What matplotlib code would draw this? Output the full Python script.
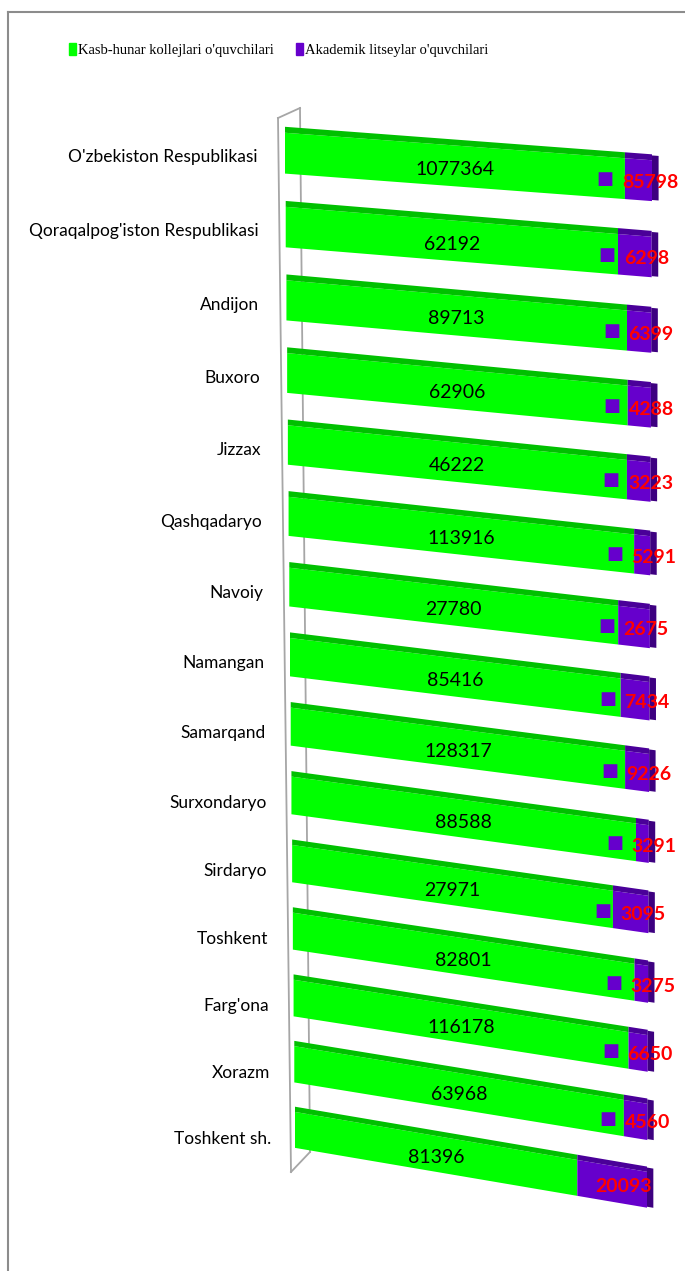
"""3D-style 100% stacked bars: college vs lyceum students by region."""
import numpy as np
import matplotlib
matplotlib.use("Agg")
import matplotlib.pyplot as plt
from matplotlib.transforms import Affine2D
from matplotlib.patches import Patch
from matplotlib.lines import Line2D

REGIONS = ["O'zbekiston Respublikasi", "Qoraqalpog'iston Respublikasi", "Andijon", "Buxoro",
           "Jizzax", "Qashqadaryo", "Navoiy", "Namangan", "Samarqand", "Surxondaryo",
           "Sirdaryo", "Toshkent", "Farg'ona", "Xorazm", "Toshkent sh."]
COLLEGE = [1077364, 62192, 89713, 62906, 46222, 113916, 27780, 85416, 128317, 88588,
           27971, 82801, 116178, 63968, 81396]
LYCEUM = [85798, 6298, 6399, 4288, 3223, 5291, 2675, 7434, 9226, 3291,
          3095, 3275, 6650, 4560, 20093]
LEGEND = ["Kasb-hunar kollejlari o'quvchilari", "Akademik litseylar o'quvchilari"]

GREEN, GREEN_TOP = "#00ff00", "#00c000"
PURPLE, PURPLE_TOP, PURPLE_SIDE = "#6600cc", "#4a0099", "#3d0080"
FONT = ["Lato", "DejaVu Sans"]

W, H = 685, 1271
XL, XR = 285, 652          # bar span (px) of the front row
K = 0.0043                 # mild perspective on the category axis


def px(x, y):
    return x / W, 1 - y / H


def fwd(y):
    y = np.asarray(y, float)
    return y - K * y * y


def inv(f):
    f = np.asarray(f, float)
    return (1 - np.sqrt(np.clip(1 - 4 * K * f, 0, None))) / (2 * K)


fig = plt.figure(figsize=(W / 100, H / 100), dpi=100)
ax = fig.add_axes([XL / W, 0.0869, (XR - XL) / W, 0.9105 - 0.0869])
ax.set_yscale("function", functions=(fwd, inv))
ax.set_xlim(0, 1)
ax.set_ylim(14.5, -0.5)
ax.set_autoscale_on(False)
ax.patch.set_visible(False)
for s in ax.spines.values():
    s.set_visible(False)
ax.set_xticks([])
ax.set_yticks([])

n = len(REGIONS)
for i, (name, c, p) in enumerate(zip(REGIONS, COLLEGE, LYCEUM)):
    t = i / (n - 1)
    dl, dr, slope = 10 * t, 5 * t, 0.075 + 0.095 * t
    sx = (XR - dr - XL - dl) / (XR - XL)
    tr = ax.transData + (Affine2D().translate(-XL, 0).scale(sx, 1)
                         .skew(0, np.arctan(-slope)).translate(XL + dl, 0))
    g = c / (c + p)
    kw = dict(transform=tr, clip_on=False, linewidth=0)
    ax.barh(i + 0.03, g, height=0.55, color=GREEN, **kw)
    ax.barh(i - 0.285, g, height=0.08, color=GREEN_TOP, **kw)
    ax.barh(i + 0.03, 1 - g, left=g, height=0.55, color=PURPLE, **kw)
    ax.barh(i - 0.285, 1 - g, left=g, height=0.08, color=PURPLE_TOP, **kw)
    ax.barh(i - 0.01, 0.018, left=1.0, height=0.6, color=PURPLE_SIDE, **kw)

    ax.annotate(name, xy=(0, i), xycoords=tr, xytext=(-20 + 3 * t, -4 - 4 * t),
                textcoords="offset points", ha="right", va="center",
                fontsize=12.5, family=FONT, annotation_clip=False)
    ax.annotate(f"{c}", xy=(g / 2, i), xycoords=tr, xytext=(0, -4),
                textcoords="offset points", ha="center", va="center",
                fontsize=14, family=FONT, annotation_clip=False)
    lab = ax.annotate(f"{p}", xy=(g + (1 - g) / 2, i), xycoords=tr, xytext=(8.5, -3.5),
                      textcoords="offset points", ha="center", va="center",
                      fontsize=14, fontweight="bold", color="red", family=FONT,
                      annotation_clip=False)
    if i < n - 1:
        ax.annotate("\u25a0", xy=(0, 0.5), xycoords=lab, xytext=(-6, 2.5),
                    textcoords="offset points", ha="right", va="center",
                    fontsize=13, color=PURPLE, family="DejaVu Sans")

# 3D wall edges and chart-area border
wall = "#a6a6a6"
for (x0, y0), (x1, y1), z in [((300, 108), (310, 1152), -1),
                              ((278, 118), (300, 108), 3),
                              ((278, 118), (291, 1172), 3),
                              ((291, 1172), (310, 1152), 3)]:
    a, b = px(x0, y0), px(x1, y1)
    fig.add_artist(Line2D([a[0], b[0]], [a[1], b[1]], transform=fig.transFigure,
                          color=wall, lw=1.3, zorder=z))
for (x0, y0), (x1, y1) in [((8, 12), (W, 12)), ((8, 12), (8, H))]:
    a, b = px(x0, y0), px(x1, y1)
    fig.add_artist(Line2D([a[0], b[0]], [a[1], b[1]], transform=fig.transFigure,
                          color="#8c8c8c", lw=1.5))

for lbl, col, x in [(LEGEND[0], GREEN, 69), (LEGEND[1], PURPLE, 296)]:
    fig.legend(handles=[Patch(color=col)], labels=[lbl], loc="upper left",
               bbox_to_anchor=px(x, 43), frameon=False, borderpad=0, borderaxespad=0,
               handlelength=0.5, handleheight=0.9, handletextpad=0.15,
               prop=dict(family="Liberation Serif", size=10.5))

fig.savefig("out.png", dpi=100, facecolor="white")
